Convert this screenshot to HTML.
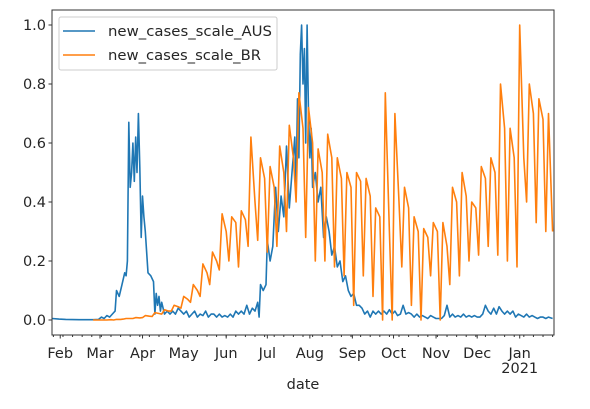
<!DOCTYPE html>
<html><head><meta charset="utf-8"><style>
body{margin:0;background:#fff;}
svg text{font-family:"DejaVu Sans","Liberation Sans",sans-serif;font-size:14.5px;fill:#262626;}
</style></head><body>
<svg id="chart" width="590" height="404" xmlns="http://www.w3.org/2000/svg">
</svg>
<script>
const monthLabels=["Feb","Mar","Apr","May","Jun","Jul","Aug","Sep","Oct","Nov","Dec","Jan"];
const monthDays=[6,35,66,96,127,157,188,219,249,280,310,341];
const yTicks=[0,0.2,0.4,0.6,0.8,1.0];
const yTickLabels=["0.0","0.2","0.4","0.6","0.8","1.0"];
const ausDays=[0,5,10,20,30,34,36,38,40,42,44,46,47,49,51,53,54,55,56,57,58,59,60,61,62,63,64,65,66,67,68,70,72,74,75,76,77,78,79,80,82,84,86,88,90,92,94,96,98,100,102,104,106,108,110,112,114,116,118,120,122,124,126,128,130,132,134,136,138,140,142,144,146,148,150,151,152,154,156,157,159,161,163,165,167,169,171,173,175,177,178,179,180,181,182,183,184,185,186,187,188,189,190,192,194,196,198,200,202,204,206,208,210,212,214,216,218,220,222,224,226,228,230,232,234,236,238,240,242,244,246,248,250,252,254,256,258,260,262,264,266,268,270,272,274,276,278,280,282,284,286,288,290,292,294,296,298,300,302,304,306,308,310,312,314,316,318,320,322,324,326,328,330,332,334,336,338,340,342,344,346,348,350,352,354,356,358,360,362,365];
const ausVals=[0.005,0.003,0.002,0.001,0.001,0.002,0.01,0.005,0.015,0.01,0.02,0.03,0.1,0.08,0.12,0.16,0.15,0.2,0.67,0.45,0.5,0.6,0.47,0.62,0.5,0.7,0.52,0.28,0.42,0.35,0.3,0.16,0.15,0.13,0.02,0.09,0.05,0.08,0.03,0.06,0.02,0.03,0.02,0.03,0.02,0.04,0.03,0.02,0.03,0.01,0.02,0.03,0.01,0.02,0.015,0.03,0.01,0.02,0.02,0.01,0.02,0.01,0.015,0.01,0.02,0.01,0.03,0.02,0.03,0.02,0.05,0.02,0.04,0.03,0.06,0.01,0.12,0.1,0.12,0.27,0.2,0.25,0.45,0.3,0.42,0.35,0.59,0.38,0.5,0.62,0.45,0.75,0.55,0.9,1.0,0.8,0.92,0.6,1.0,0.7,0.55,0.65,0.45,0.5,0.4,0.45,0.28,0.35,0.3,0.22,0.25,0.18,0.2,0.13,0.15,0.1,0.08,0.09,0.05,0.05,0.04,0.02,0.03,0.01,0.03,0.02,0.03,0.02,0.03,0.02,0.035,0.02,0.03,0.015,0.02,0.05,0.02,0.025,0.02,0.01,0.02,0.01,0.015,0.01,0.005,0.015,0.01,0.005,0.005,0.005,0.015,0.05,0.01,0.02,0.01,0.015,0.01,0.02,0.01,0.015,0.01,0.015,0.01,0.01,0.02,0.05,0.03,0.02,0.04,0.02,0.045,0.03,0.02,0.03,0.02,0.03,0.01,0.02,0.015,0.01,0.02,0.01,0.015,0.01,0.005,0.01,0.01,0.005,0.01,0.005];
const brDays=[30,31,33,36,38,40,43,45,47,50,52,54,57,59,61,64,66,68,71,73,75,78,80,82,85,87,89,92,94,96,99,101,103,106,108,110,113,115,117,120,122,124,127,129,131,134,136,138,141,143,145,148,150,152,155,157,159,162,164,166,169,171,173,176,178,180,183,185,187,190,192,194,197,199,201,204,206,208,211,213,215,218,220,222,225,227,229,232,234,236,239,241,243,246,248,250,253,255,257,260,262,264,267,269,271,274,276,278,281,283,285,288,290,292,295,297,299,302,304,306,309,311,313,316,318,320,323,325,327,330,332,334,337,339,341,344,346,348,351,353,355,358,360,362,365];
const brVals=[0,0,0,0,0,0,0.001,0,0.002,0.002,0.003,0.005,0.005,0.005,0.008,0.007,0.008,0.015,0.013,0.012,0.025,0.022,0.02,0.035,0.03,0.03,0.05,0.045,0.04,0.08,0.07,0.06,0.12,0.1,0.08,0.19,0.16,0.12,0.23,0.2,0.17,0.36,0.3,0.2,0.35,0.33,0.18,0.37,0.34,0.25,0.62,0.4,0.27,0.55,0.48,0.23,0.52,0.45,0.25,0.59,0.5,0.3,0.66,0.55,0.4,0.77,0.65,0.28,0.72,0.6,0.2,0.58,0.5,0.2,0.63,0.55,0.18,0.55,0.48,0.15,0.5,0.45,0.05,0.5,0.47,0.15,0.48,0.42,0.08,0.38,0.35,0.0,0.77,0.3,0.0,0.7,0.4,0.18,0.45,0.38,0.05,0.35,0.3,0.0,0.31,0.28,0.15,0.33,0.3,0.0,0.33,0.25,0.12,0.45,0.4,0.15,0.5,0.42,0.2,0.4,0.38,0.22,0.52,0.48,0.25,0.55,0.5,0.22,0.8,0.65,0.2,0.65,0.55,0.18,1.0,0.55,0.4,0.8,0.7,0.33,0.75,0.68,0.3,0.7,0.3];
const svg=document.getElementById('chart');
const NS='http://www.w3.org/2000/svg';
const X0=52,X1=554,Y0=10,Y1=335;
function xs(d){return X0+(X1-X0)*d/366;}
function ys(v){return 320-295*v;}
function mk(tag,attrs){const e=document.createElementNS(NS,tag);for(const k in attrs)e.setAttribute(k,attrs[k]);svg.appendChild(e);return e;}
function line(days,vals,color,name){
  let d='';days.forEach((dd,i)=>{d+=(i?'L':'M')+xs(dd).toFixed(1)+','+ys(vals[i]).toFixed(1);});
  const p=mk('path',{d:d,fill:'none',stroke:color,'stroke-width':1.6,'stroke-linejoin':'round'});
  
  
}
line(ausDays,ausVals,'#1f77b4','series-aus');
line(brDays,brVals,'#ff7f0e','series-br');
const frame=mk('rect',{x:X0,y:Y0,width:X1-X0,height:Y1-Y0,fill:'none',stroke:'#333','stroke-width':1});


yTicks.forEach((v,i)=>{
  mk('line',{x1:X0-3.5,x2:X0,y1:ys(v),y2:ys(v),stroke:'#333'});
  const t=mk('text',{x:X0-6,y:ys(v)+5,'text-anchor':'end'});t.textContent=yTickLabels[i];
  
  
});
for(let d=1;d<366;d+=7){mk('line',{x1:xs(d),x2:xs(d),y1:Y1,y2:Y1+2,stroke:'#333'});}
monthDays.forEach((d,i)=>{
  mk('line',{x1:xs(d),x2:xs(d),y1:Y1,y2:Y1+3.5,stroke:'#333'});
  const t=mk('text',{x:xs(d),y:358,'text-anchor':'middle'});t.textContent=monthLabels[i];
  
  
});
const yr=mk('text',{x:xs(341),y:373,'text-anchor':'middle'});yr.textContent='2021';


const xt=mk('text',{x:303,y:389,'text-anchor':'middle'});xt.textContent='date';


const lg=mk('rect',{x:59,y:17,width:218,height:53,rx:2,fill:'#fff','fill-opacity':0.8,stroke:'#ccc'});


[['new_cases_scale_AUS','#1f77b4',31],['new_cases_scale_BR','#ff7f0e',55]].forEach(a=>{
  mk('line',{x1:63,x2:95,y1:a[2],y2:a[2],stroke:a[1],'stroke-width':1.6});
  const t=mk('text',{x:108,y:a[2]+5,textLength:164,lengthAdjust:'spacingAndGlyphs'});t.textContent=a[0];
  if(a[0].endsWith('BR'))t.setAttribute('textLength','153');
  
  
});
</script>
</body></html>
